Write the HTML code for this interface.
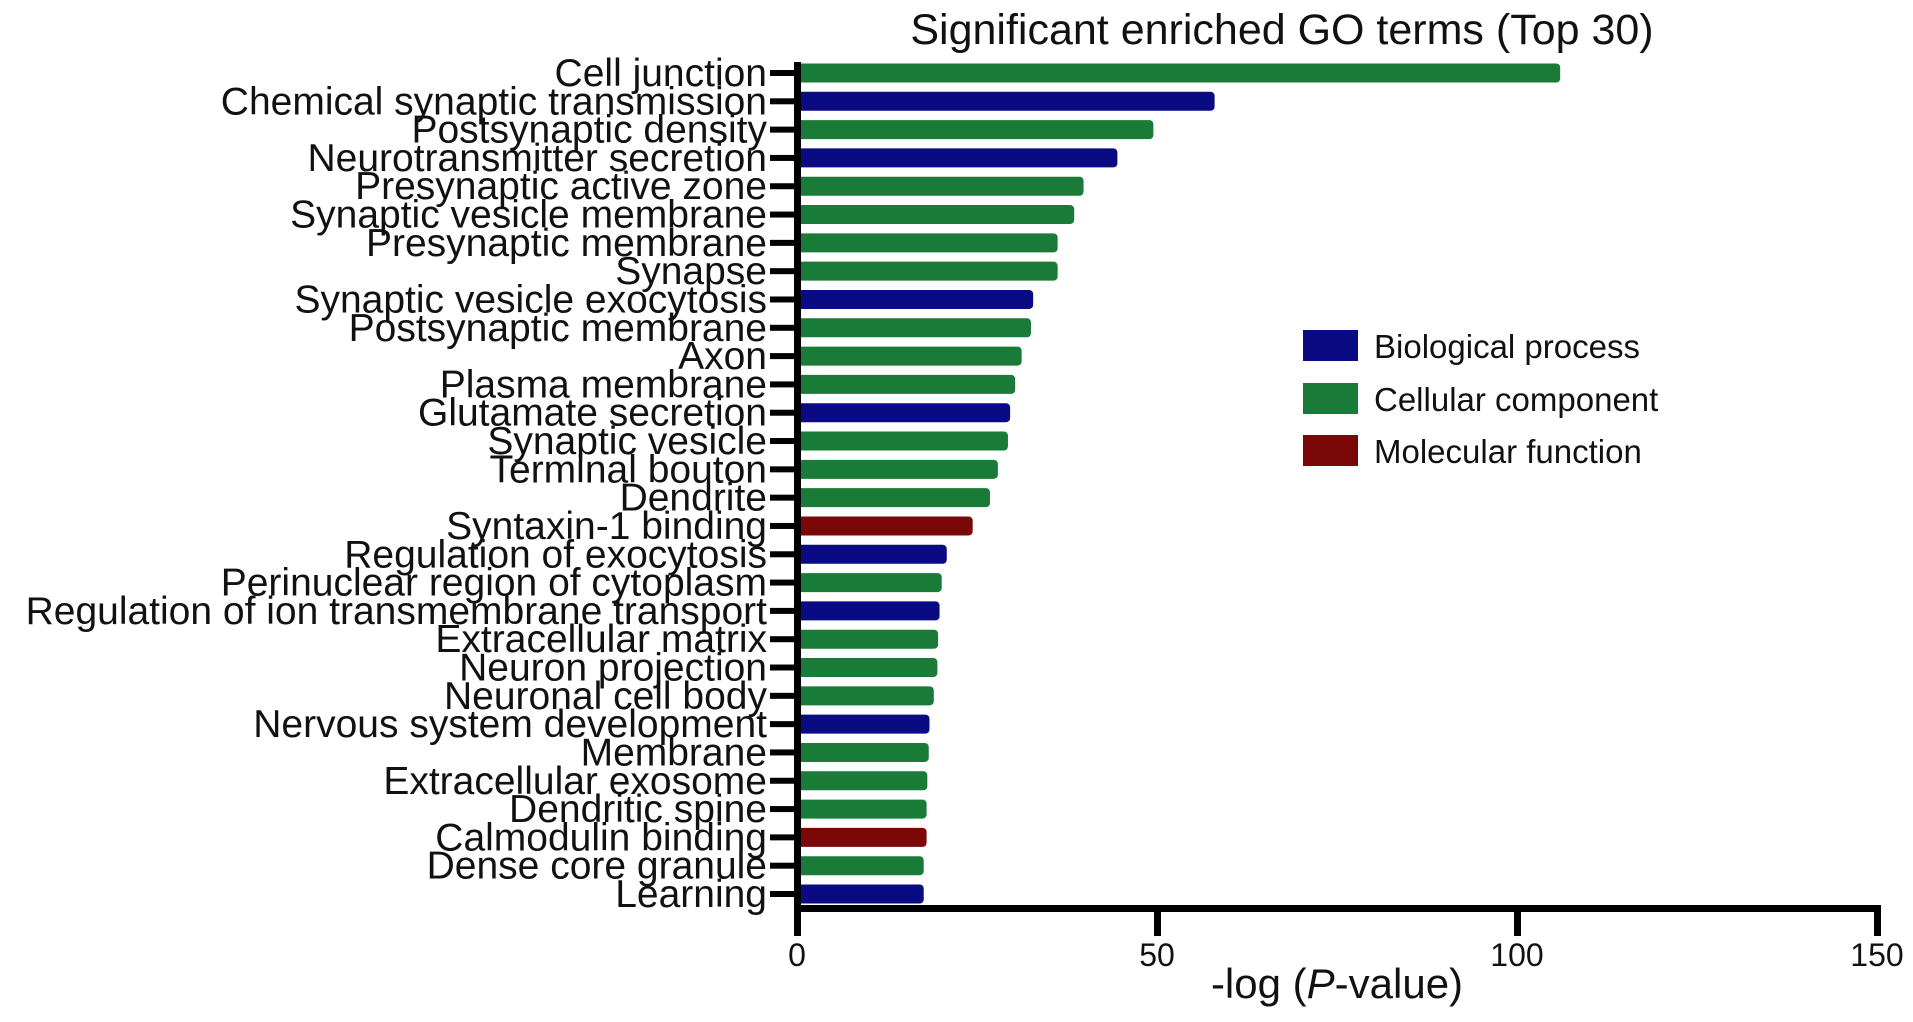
<!DOCTYPE html>
<html><head><meta charset="utf-8"><style>
body{margin:0;background:#fff;}
svg{display:block;font-family:"Liberation Sans",Arial,sans-serif;}
</style></head><body>
<svg id="chart" width="1913" height="1022" viewBox="0 0 1913 1022">
<text x="1282" y="44" font-size="43" text-anchor="middle" fill="#111">Significant enriched GO terms (Top 30)</text>
<g id="bars"></g>
<g id="axes"></g>
<g>
<rect x="1303" y="330" width="55" height="31" fill="#0a0a82"/>
<text x="1374" y="358" font-size="33" fill="#111">Biological process</text>
<rect x="1303" y="383" width="55" height="31" fill="#1a7a38"/>
<text x="1374" y="411" font-size="33" fill="#111">Cellular component</text>
<rect x="1303" y="435" width="55" height="31" fill="#7a0808"/>
<text x="1374" y="463" font-size="33" fill="#111">Molecular function</text>
</g>
<text x="1337" y="998" font-size="42" text-anchor="middle" fill="#111">-log (<tspan font-style="italic">P</tspan>-value)</text>
</svg>
<script>
const categories = ["Cell junction","Chemical synaptic transmission","Postsynaptic density","Neurotransmitter secretion","Presynaptic active zone","Synaptic vesicle membrane","Presynaptic membrane","Synapse","Synaptic vesicle exocytosis","Postsynaptic membrane","Axon","Plasma membrane","Glutamate secretion","Synaptic vesicle","Terminal bouton","Dendrite","Syntaxin-1 binding","Regulation of exocytosis","Perinuclear region of cytoplasm","Regulation of ion transmembrane transport","Extracellular matrix","Neuron projection","Neuronal cell body","Nervous system development","Membrane","Extracellular exosome","Dendritic spine","Calmodulin binding","Dense core granule","Learning"];
const values = [106,58,49.5,44.5,39.8,38.5,36.2,36.2,32.8,32.5,31.2,30.3,29.6,29.3,27.9,26.8,24.4,20.8,20.1,19.8,19.6,19.5,19,18.4,18.3,18.1,18,18,17.6,17.6];
const types = ["CC","BP","CC","BP","CC","CC","CC","CC","BP","CC","CC","CC","BP","CC","CC","CC","MF","BP","CC","BP","CC","CC","CC","BP","CC","CC","CC","MF","CC","BP"];
const xTicks = [0,50,100,150];
const colors = {BP:"#0a0a82",CC:"#1a7a38",MF:"#7a0808"};
const NS="http://www.w3.org/2000/svg";
const x0=797,x1=1877,xmax=150;
const xs=v=>x0+(v/xmax)*(x1-x0);
const yTop=73,yBot=894;
const ys=i=>yTop+i*(yBot-yTop)/(categories.length-1);
const barH=19;
const gb=document.getElementById('bars');
categories.forEach((c,i)=>{
  const r=document.createElementNS(NS,'rect');
  r.setAttribute('x',x0);r.setAttribute('y',ys(i)-barH/2);
  r.setAttribute('width',xs(values[i])-x0);r.setAttribute('height',barH);
  r.setAttribute('rx',4);r.setAttribute('fill',colors[types[i]]);
  
  
  gb.appendChild(r);
  const t=document.createElementNS(NS,'text');
  t.setAttribute('x',767);t.setAttribute('y',ys(i)+13);
  t.setAttribute('text-anchor','end');t.setAttribute('font-size','39');t.setAttribute('fill','#111');
  t.textContent=c;
  
  
  gb.appendChild(t);
  const tk=document.createElementNS(NS,'rect');
  tk.setAttribute('x',770);tk.setAttribute('y',ys(i)-3);tk.setAttribute('width',27);tk.setAttribute('height',6);tk.setAttribute('fill','#000');
  
  
  gb.appendChild(tk);
});
const ga=document.getElementById('axes');
const yl=document.createElementNS(NS,'rect');
yl.setAttribute('x',x0-3);yl.setAttribute('y',62);yl.setAttribute('width',7);yl.setAttribute('height',874);yl.setAttribute('fill','#000');


ga.appendChild(yl);
const xl=document.createElementNS(NS,'rect');
xl.setAttribute('x',x0-3);xl.setAttribute('y',905);xl.setAttribute('width',x1-x0+6);xl.setAttribute('height',7);xl.setAttribute('fill','#000');


ga.appendChild(xl);
xTicks.forEach(v=>{
  const tk=document.createElementNS(NS,'rect');
  tk.setAttribute('x',xs(v)-3);tk.setAttribute('y',905);tk.setAttribute('width',7);tk.setAttribute('height',31);tk.setAttribute('fill','#000');
  
  
  ga.appendChild(tk);
  const t=document.createElementNS(NS,'text');
  t.setAttribute('x',xs(v));t.setAttribute('y',966);t.setAttribute('text-anchor','middle');t.setAttribute('font-size','32');t.setAttribute('fill','#111');
  t.textContent=v;
  
  
  ga.appendChild(t);
});
</script>
</body></html>
